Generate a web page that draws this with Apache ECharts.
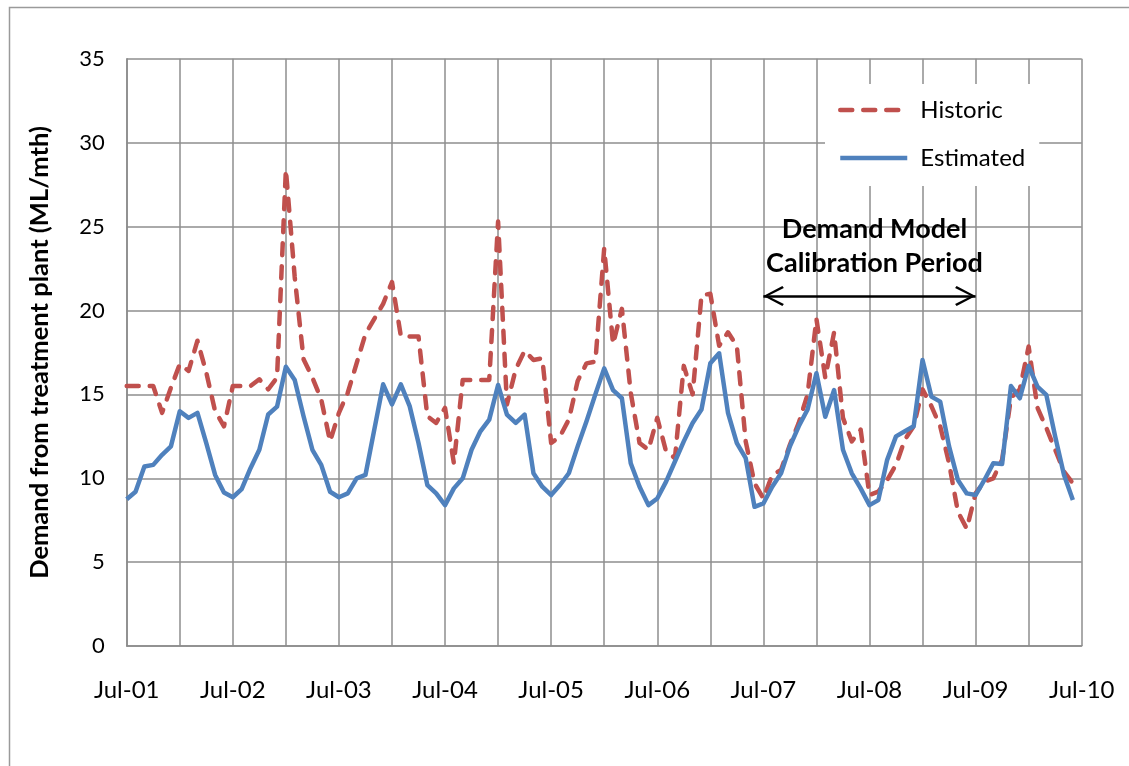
<!DOCTYPE html>
<html><head><meta charset="utf-8">
<script src="https://cdn.jsdelivr.net/npm/echarts@6/dist/echarts.min.js"></script>
<style>html,body{margin:0;padding:0;background:#fff}#c{width:1129px;height:766px}</style>
</head><body><div id="c"></div>
<script>
// Month labels (Jul-01 .. Jul-10)
const monthNames = ['Jul','Aug','Sep','Oct','Nov','Dec','Jan','Feb','Mar','Apr','May','Jun'];
const yearLabels = ['01','02','03','04','05','06','07','08','09','10'];
const categories = [];
for (let y = 0; y < 9; y++) {
  for (let m = 0; m < 12; m++) {
    categories.push(monthNames[m] + '-' + (m < 6 ? yearLabels[y] : yearLabels[y + 1]));
  }
}
categories.push('Jul-10');

// Historic demand (ML/mth), Jul-01 .. Jun-10
const historic = [
  15.5, 15.5, 15.5, 15.5, 13.9, 15.4, 16.8, 16.4, 18.2, 16.3, 14.0, 13.1,
  15.5, 15.5, 15.5, 15.9, 15.3, 16.0, 28.4, 22.0, 17.1, 16.0, 14.7, 12.2,
  13.9, 15.1, 16.85, 18.6, 19.5, 20.4, 21.7, 18.5, 18.45, 18.45, 13.7, 13.3,
  14.2, 10.9, 15.86, 15.86, 15.86, 15.86, 25.3, 14.4, 16.5, 17.6, 17.05, 17.15,
  12.1, 12.5, 13.5, 15.8, 16.85, 16.95, 23.7, 18.0, 20.1, 15.1, 12.1, 11.7,
  13.6, 11.6, 11.2, 16.7, 15.0, 20.9, 21.0, 17.9, 18.7, 17.9, 12.2, 9.7,
  8.8, 10.2, 10.5, 12.0, 13.3, 15.0, 19.5, 16.0, 18.7, 13.6, 12.2, 12.9,
  9.0, 9.2, 9.9, 10.8, 12.3, 13.1, 15.3, 14.3, 13.1, 10.9, 8.0, 7.0,
  9.1, 9.8, 10.0, 11.1, 14.8, 15.3, 17.85, 14.2, 13.0, 11.7, 10.4, 9.7
];

// Estimated demand (ML/mth), Jul-01 .. Jun-10
const estimated = [
  8.75, 9.2, 10.7, 10.8, 11.4, 11.9, 14.0, 13.6, 13.9, 12.1, 10.2, 9.15,
  8.87, 9.35, 10.6, 11.7, 13.8, 14.27, 16.65, 15.86, 13.7, 11.7, 10.8, 9.2,
  8.87, 9.1, 10.0, 10.2, 12.9, 15.6, 14.4, 15.6, 14.3, 12.1, 9.6, 9.1,
  8.4, 9.4, 10.0, 11.7, 12.8, 13.5, 15.56, 13.8, 13.3, 13.8, 10.3, 9.5,
  9.0, 9.6, 10.3, 11.9, 13.4, 15.0, 16.55, 15.26, 14.77, 10.9, 9.5, 8.4,
  8.8, 9.8, 11.0, 12.2, 13.3, 14.1, 16.85, 17.45, 13.9, 12.1, 11.2, 8.3,
  8.5, 9.5, 10.3, 11.9, 13.1, 14.1, 16.26, 13.67, 15.26, 11.7, 10.3, 9.4,
  8.4, 8.7, 11.1, 12.5, 12.8, 13.1, 17.05, 14.87, 14.57, 11.9, 9.9, 9.1,
  9.0, 9.9, 10.9, 10.85, 15.5, 14.77, 16.7, 15.46, 14.97, 12.5, 10.2, 8.7
];

// Calibration period annotation
const calibStart = 'Jul-07';
const calibEnd = 'Jul-09';
const calibLevel = 20.86;

const FONT = 'Lato, "Open Sans", "Liberation Sans", sans-serif';
const chevron = 'path://M10,0 L10.2,0 L10,0.2 Z M10,20.5 L20,39.5 L18,41 L10,25 L2,41 L0,39.5 Z';

const chart = echarts.init(document.getElementById('c'), null, {renderer: 'canvas'});
chart.setOption({
  animation: false,
  backgroundColor: '#fff',
  textStyle: {fontFamily: FONT},
  graphic: [{
    type: 'rect', left: 7, top: 5, silent: true, z: -10,
    shape: {width: 1140, height: 780},
    style: {fill: 'none', stroke: '#9a9a9a', lineWidth: 1.5}
  }],
  grid: {left: 126.7, right: 47.3, top: 58.8, bottom: 119.9, containLabel: false},
  legend: {
    orient: 'vertical', left: 825, top: 84,
    padding: [14, 14, 16, 13],
    backgroundColor: '#fff',
    itemWidth: 67, itemHeight: 14, itemGap: 24,
    itemStyle: {opacity: 0},
    lineStyle: {width: 4.5},
    textStyle: {fontSize: 24, color: '#000', fontFamily: FONT, padding: [0, 0, 0, 8]},
    data: ['Historic', 'Estimated']
  },
  xAxis: {
    type: 'category', data: categories, boundaryGap: false,
    axisLine: {lineStyle: {color: '#8a8a8a', width: 1.5}},
    axisTick: {show: false},
    axisLabel: {interval: 11, color: '#000', fontSize: 24, margin: 32, fontFamily: FONT},
    splitLine: {show: true, interval: 5, lineStyle: {color: '#8e8e8e', width: 1.5}}
  },
  yAxis: {
    type: 'value', min: 0, max: 35, interval: 5,
    name: 'Demand from treatment plant (ML/mth)', nameLocation: 'middle', nameGap: 74,
    nameTextStyle: {fontSize: 25.5, fontWeight: 'bold', color: '#000', fontFamily: FONT},
    axisLine: {show: true, lineStyle: {color: '#8a8a8a', width: 1.5}},
    axisTick: {show: false},
    axisLabel: {color: '#000', fontSize: 22, margin: 22, fontFamily: FONT},
    splitLine: {show: true, lineStyle: {color: '#8e8e8e', width: 1.5}}
  },
  series: [{
    name: 'Historic', type: 'line', data: historic, symbol: 'none',
    lineStyle: {color: '#C0504D', width: 4.5, type: [12, 11], cap: 'round', join: 'round'},
    itemStyle: {color: '#C0504D'},
    markLine: {
      silent: true, animation: false,
      symbol: [chevron, chevron], symbolSize: [20, 41],
      lineStyle: {color: '#000', width: 2.5, type: 'solid'},
      label: {
        show: true, position: 'insideMiddleTop', distance: 16,
        formatter: 'Demand Model\nCalibration Period', padding: [0, 0, 0, 10],
        fontSize: 27, fontWeight: 'bold', color: '#000', lineHeight: 34, fontFamily: FONT
      },
      data: [[{coord: [calibStart, calibLevel]}, {coord: [calibEnd, calibLevel]}]]
    }
  }, {
    name: 'Estimated', type: 'line', data: estimated, symbol: 'none',
    lineStyle: {color: '#4F81BD', width: 4.5, join: 'round'},
    itemStyle: {color: '#4F81BD'}
  }]
});
</script></body></html>
